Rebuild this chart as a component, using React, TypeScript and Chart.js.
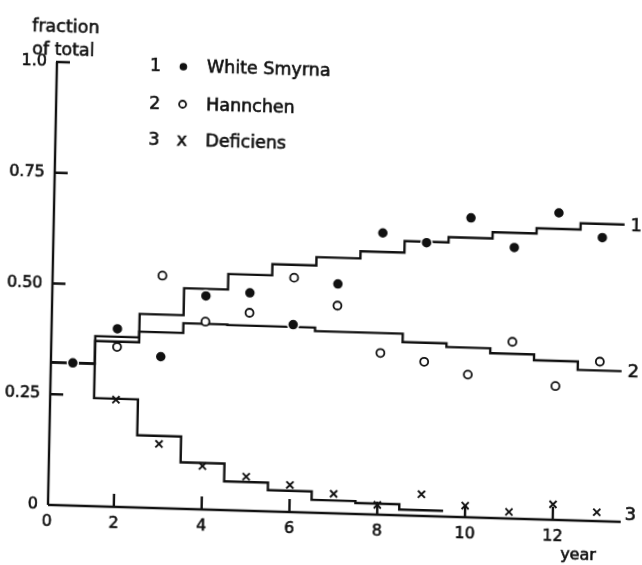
import React, { useEffect, useRef } from "react";
import { Chart, registerables } from "chart.js";

Chart.register(...registerables);

// ---- data ----
const YEARS = [1, 2, 3, 4, 5, 6, 7, 8, 9, 10, 11, 12, 13];
const WHITE_SMYRNA = [0.322, 0.402, 0.342, 0.482, 0.492, 0.423, 0.518, 0.636, 0.617, 0.676, 0.612, 0.693, 0.64];
const HANNCHEN = [0.322, 0.361, 0.525, 0.424, 0.447, 0.529, 0.469, 0.365, 0.348, 0.322, 0.399, 0.302, 0.36];
const DEFICIENS = [0.322, 0.242, 0.145, 0.098, 0.077, 0.061, 0.044, 0.022, 0.049, 0.026, 0.015, 0.035, 0.02];

// model step curves: level i holds from STEP_BOUNDS[i] to STEP_BOUNDS[i+1]
const STEP_BOUNDS = [0.5, 1.5, 2.5, 3.5, 4.5, 5.5, 6.5, 7.5, 8.5, 9.5, 10.5, 11.5, 12.5, 13.5];
const MODEL_1 = [0.322, 0.384, 0.437, 0.498, 0.533, 0.558, 0.577, 0.593, 0.619, 0.631, 0.645, 0.657, 0.671];
const MODEL_2 = [0.322, 0.373, 0.397, 0.419, 0.418, 0.418, 0.41, 0.41, 0.391, 0.383, 0.372, 0.359, 0.34];
const MODEL_3 = [0.322, 0.244, 0.163, 0.105, 0.065, 0.048, 0.029, 0.025, 0.013];

const LEGEND_NUMBERS = ["1", "2", "3"];
const LEGEND_NAMES = ["White Smyrna", "Hannchen", "Deficiens"];
const END_LABELS = ["1", "2", "3"];

const X_MIN = 0.5;
const X_MAX = 13.55;
const X_TICKS = [2, 4, 6, 8, 10, 12];
const X_ORIGIN_LABEL = "0";
const Y_TICKS = [0, 0.25, 0.5, 0.75, 1.0];
const Y_TICK_LABELS = ["0", "0.25", "0.50", "0.75", "1.0"];
const Y_TITLE = ["fraction", "of total"];
const X_TITLE = "year";

const INK = "#111";
const FONT = '"DejaVu Sans", sans-serif';

function stepData(levels: number[]) {
  const pts = levels.map((v, i) => ({ x: STEP_BOUNDS[i], y: v }));
  pts.push({ x: STEP_BOUNDS[levels.length], y: levels[levels.length - 1] });
  return pts;
}

function pointData(values: number[]) {
  return values.map((v, i) => ({ x: YEARS[i], y: v }));
}

function inkText(ctx: CanvasRenderingContext2D, s: string, x: number, y: number) {
  ctx.fillText(s, x, y);
  ctx.save();
  ctx.lineWidth = 0.6;
  ctx.strokeText(s, x, y);
  ctx.restore();
}

const paperPlugin = {
  id: "paperAxes",
  afterDraw(chart: any) {
    const { ctx, chartArea } = chart;
    const xs = chart.scales.x;
    const ys = chart.scales.y;
    const { left, right, top, bottom } = chartArea;
    ctx.save();
    ctx.strokeStyle = INK;
    ctx.fillStyle = INK;
    ctx.lineWidth = 2.4;
    ctx.lineCap = "butt";

    // axes
    ctx.beginPath();
    ctx.moveTo(left, bottom);
    ctx.lineTo(right, bottom);
    ctx.moveTo(left, bottom);
    ctx.lineTo(left, top);
    ctx.stroke();

    // inner y ticks
    ctx.beginPath();
    Y_TICKS.forEach((v) => {
      if (v === 0) return;
      const py = ys.getPixelForValue(v);
      ctx.moveTo(left - 1, py);
      ctx.lineTo(left + 13, py);
    });
    ctx.stroke();
    // inner x ticks
    ctx.beginPath();
    X_TICKS.forEach((v) => {
      const px = xs.getPixelForValue(v);
      ctx.moveTo(px, bottom);
      ctx.lineTo(px, bottom - 13);
    });
    ctx.stroke();

    // tick labels
    ctx.font = `16px ${FONT}`;
    ctx.textBaseline = "middle";
    ctx.textAlign = "right";
    Y_TICKS.forEach((v, i) => {
      inkText(ctx, Y_TICK_LABELS[i], left - 10, ys.getPixelForValue(v));
    });
    ctx.textAlign = "center";
    inkText(ctx, X_ORIGIN_LABEL, left - 1, bottom + 17);
    X_TICKS.forEach((v) => {
      inkText(ctx, String(v), xs.getPixelForValue(v), bottom + 17);
    });

    // axis titles
    ctx.font = `17.5px ${FONT}`;
    ctx.textBaseline = "alphabetic";
    ctx.textAlign = "left";
    inkText(ctx, Y_TITLE[0], left - 25.5, top - 30.5);
    inkText(ctx, Y_TITLE[1], left - 25, top - 7.5);
    ctx.font = `16px ${FONT}`;
    ctx.textAlign = "center";
    ctx.textBaseline = "middle";
    inkText(ctx, X_TITLE, right - 42, bottom + 35);

    // legend
    ctx.font = `17.5px ${FONT}`;
    ctx.textBaseline = "alphabetic";
    const rowBase = [top + 6, top + 43.5, top + 80];
    rowBase.forEach((by, i) => {
      ctx.textAlign = "center";
      inkText(ctx, LEGEND_NUMBERS[i], left + 98.5, by);
      const mx = left + 126.5;
      const my = by - 5;
      if (i === 0) {
        ctx.beginPath();
        ctx.arc(mx, my, 3.8, 0, Math.PI * 2);
        ctx.fill();
      } else if (i === 1) {
        ctx.beginPath();
        ctx.lineWidth = 1.8;
        ctx.arc(mx, my, 3.5, 0, Math.PI * 2);
        ctx.stroke();
      } else {
        inkText(ctx, "x", mx, by);
      }
      ctx.textAlign = "left";
      inkText(ctx, LEGEND_NAMES[i], left + 150, by);
    });

    // curve end labels
    ctx.font = `18px ${FONT}`;
    ctx.textAlign = "left";
    ctx.textBaseline = "middle";
    const endX = xs.getPixelForValue(STEP_BOUNDS[STEP_BOUNDS.length - 1]) + 6;
    inkText(ctx, END_LABELS[0], endX, ys.getPixelForValue(MODEL_1[MODEL_1.length - 1]) + 2);
    inkText(ctx, END_LABELS[1], endX, ys.getPixelForValue(MODEL_2[MODEL_2.length - 1]) + 1);
    inkText(ctx, END_LABELS[2], endX, ys.getPixelForValue(0) - 7);
    ctx.restore();
  },
};

export default function App() {
  const ref = useRef<HTMLCanvasElement | null>(null);
  useEffect(() => {
    if (!ref.current) return;
    const stepStyle = {
      showLine: true,
      stepped: true,
      borderColor: INK,
      borderWidth: 2.4,
      pointRadius: 0,
      fill: false,
      clip: false as any,
    };
    const chart = new Chart(ref.current, {
      type: "scatter",
      data: {
        datasets: [
          {
            label: "White Smyrna",
            data: pointData(WHITE_SMYRNA),
            pointStyle: "circle",
            pointRadius: 5.5,
            pointBackgroundColor: INK,
            pointBorderColor: "#fff",
            pointBorderWidth: 1.5,
            clip: false as any,
          },
          {
            label: "Hannchen",
            data: pointData(HANNCHEN),
            pointStyle: "circle",
            pointRadius: 4,
            pointBackgroundColor: "#fff",
            pointBorderColor: INK,
            pointBorderWidth: 1.8,
            clip: false as any,
          },
          {
            label: "Deficiens",
            data: pointData(DEFICIENS),
            pointStyle: "crossRot",
            pointRadius: 5,
            pointBorderColor: INK,
            pointBorderWidth: 1.9,
            clip: false as any,
          },
          { label: "model 1", data: stepData(MODEL_1), ...stepStyle },
          { label: "model 2", data: stepData(MODEL_2), ...stepStyle },
          { label: "model 3", data: stepData(MODEL_3), ...stepStyle },
        ] as any,
      },
      options: {
        responsive: false,
        maintainAspectRatio: false,
        devicePixelRatio: 1,
        animation: false,
        layout: { padding: { left: 48, top: 62, right: 21, bottom: 60 } },
        plugins: { legend: { display: false }, tooltip: { enabled: false } },
        scales: {
          x: { type: "linear", min: X_MIN, max: X_MAX, display: false },
          y: { type: "linear", min: 0, max: 1, display: false },
        },
      },
      plugins: [paperPlugin],
    });
    return () => chart.destroy();
  }, []);

  return (
    <div
      style={{
        position: "fixed",
        left: 0,
        top: 0,
        width: 642,
        height: 565,
        overflow: "hidden",
        background: "#fff",
      }}
    >
      <canvas
        ref={ref}
        width={642}
        height={565}
        style={{
          display: "block",
          width: 642,
          height: 565,
          transform: "matrix(1, 0.0296, -0.0203, 1, 0, 0)",
          transformOrigin: "48px 505px",
        }}
      />
    </div>
  );
}
